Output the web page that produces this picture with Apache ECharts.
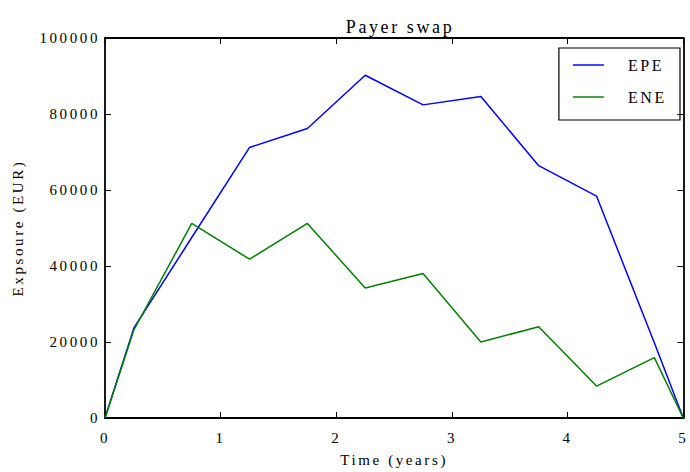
<!DOCTYPE html>
<html>
<head>
<meta charset="utf-8">
<script src="https://cdn.jsdelivr.net/npm/echarts@6/dist/echarts.min.js"></script>
<style>
html,body{margin:0;padding:0;background:#fff}
#c{width:690px;height:472px}
#c svg text{letter-spacing:2.6px}
</style>
</head>
<body>
<div id="c"></div>
<script>
const times = [0, 0.25, 0.75, 1.25, 1.75, 2.25, 2.75, 3.25, 3.75, 4.25, 4.75, 5];
const epe = [0, 23700, 47500, 71200, 76200, 90200, 82400, 84600, 66400, 58400, 19800, 0];
const ene = [0, 23200, 51200, 41800, 51200, 34200, 38000, 20000, 24000, 8400, 15900, 0];
const xTicks = [0, 1, 2, 3, 4, 5];
const yTicks = [0, 20000, 40000, 60000, 80000, 100000];

const font = 'Liberation Serif, Times New Roman, serif';
const chart = echarts.init(document.getElementById('c'), null, {renderer: 'svg'});
function axisBase() {
  return {
    type: 'value',
    axisLine: {show: true, onZero: false, lineStyle: {color: '#000', width: 1.8}},
    axisTick: {show: true, inside: true, length: 6, lineStyle: {color: '#000', width: 1}},
    splitLine: {show: false}
  };
}
const lineIcon = 'path://M0,9 L32,9 L32,10.5 L0,10.5 Z';
chart.setOption({
  animation: false,
  title: {
    text: 'Payer swap', left: 395, textAlign: 'center', top: 13,
    textStyle: {fontFamily: font, fontSize: 18, fontWeight: 'normal', color: '#000'}
  },
  grid: {left: 105, right: 5, top: 38, bottom: 47, containLabel: false},
  legend: {
    right: 10, top: 48, orient: 'vertical',
    borderColor: '#000', borderWidth: 1.2, borderRadius: 0,
    padding: [9, 21, 15, 14], itemGap: 16,
    itemWidth: 31, itemHeight: 16,
    textStyle: {fontFamily: font, fontSize: 16, color: '#000', padding: [0, 0, 0, 19]},
    data: [{name: 'EPE', icon: lineIcon}, {name: 'ENE', icon: lineIcon}]
  },
  xAxis: [
    Object.assign(axisBase(), {
      min: 0, max: 5, interval: 1, position: 'bottom',
      name: 'Time (years)', nameLocation: 'middle', nameGap: 34,
      nameTextStyle: {fontFamily: font, fontSize: 15, color: '#000'},
      axisLabel: {fontFamily: font, fontSize: 15, color: '#000', margin: 12,
        formatter: v => xTicks.includes(v) ? String(v) : ''}
    }),
    Object.assign(axisBase(), {
      min: 0, max: 5, interval: 1, position: 'top', axisLabel: {show: false}
    })
  ],
  yAxis: [
    Object.assign(axisBase(), {
      min: 0, max: 100000, interval: 20000, position: 'left',
      name: 'Expsoure (EUR)', nameLocation: 'middle', nameGap: 80, nameRotate: 90,
      nameTextStyle: {fontFamily: font, fontSize: 15, color: '#000'},
      axisLabel: {fontFamily: font, fontSize: 15, color: '#000', margin: 5,
        formatter: v => yTicks.includes(v) ? String(v) : ''}
    }),
    Object.assign(axisBase(), {
      min: 0, max: 100000, interval: 20000, position: 'right', axisLabel: {show: false}
    })
  ],
  series: [
    {name: 'EPE', type: 'line', data: times.map((t, i) => [t, epe[i]]),
     symbol: 'none', lineStyle: {color: '#0000ff', width: 1.5}, itemStyle: {color: '#0000ff'}},
    {name: 'ENE', type: 'line', data: times.map((t, i) => [t, ene[i]]),
     symbol: 'none', lineStyle: {color: '#008000', width: 1.5}, itemStyle: {color: '#008000'}}
  ]
});
</script>
</body>
</html>
